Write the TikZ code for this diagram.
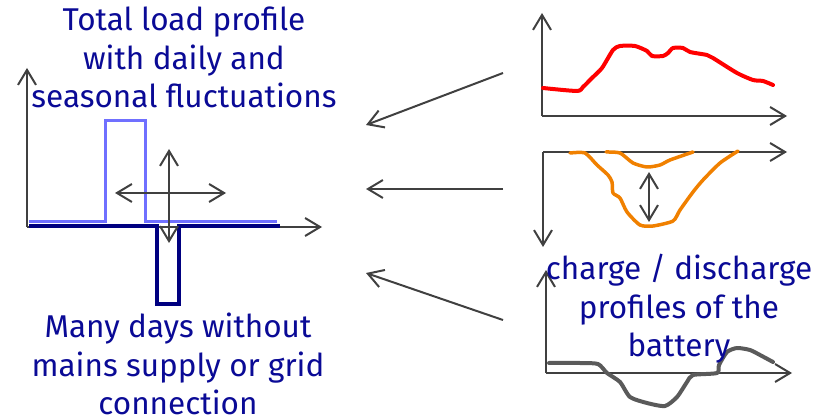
\documentclass[tikz,border=0pt]{standalone}
\usepackage{fontspec}
\setmainfont{Fira Sans}
\usetikzlibrary{arrows.meta}
\definecolor{txtblue}{RGB}{10,10,150}
\definecolor{axgray}{RGB}{64,64,64}
\definecolor{lightpulse}{RGB}{112,112,255}
\definecolor{navypulse}{RGB}{0,0,128}
\definecolor{curvered}{RGB}{255,0,0}
\definecolor{curveorange}{RGB}{240,128,0}
\definecolor{curvegray}{RGB}{90,90,90}
\tikzset{
  barb/.tip={Straight Barb[length=15pt,width=18pt,line width=2pt]},
  axis/.style={draw=axgray,line width=2pt,-barb},
  dbl/.style={draw=axgray,line width=2pt,barb-barb},
  lbl/.style={text=txtblue,font=\fontsize{31.5}{38.5}\selectfont,align=center,inner sep=0pt},
  curve/.style={line width=4pt,line cap=round,line join=round}
}
\begin{document}
\begin{tikzpicture}[x=1pt,y=-1pt]
\useasboundingbox (0,0) rectangle (823,417);
% ---------- left graph ----------
\coordinate (lo) at (27,227);
\coordinate (ly) at (27,68);
\coordinate (lx) at (322,227);
\draw[axis] (lo) -- (ly);
\draw[axis] (lo) -- (lx);
\draw[lightpulse,line width=3pt,line join=miter] (29,222) -- (105,222) -- (105,121) -- (145,121) -- (145,222) -- (277,222);
\draw[navypulse,line width=4pt,line join=miter] (29,226) -- (157,226) -- (157,304) -- (179,304) -- (179,226) -- (280,226);
\coordinate (vt) at (169,149);
\coordinate (vb) at (169,243);
\coordinate (hl) at (115,193);
\coordinate (hr) at (226,193);
\draw[dbl] (vb) -- (vt);
\draw[dbl] (hl) -- (hr);
\node[lbl,anchor=north] (tl) at (184,7) {Total load profile\\with daily and\\seasonal fluctuations};
\node[lbl,anchor=north] (bl) at (178,313) {Many days without\\mains supply or grid\\connection};
% ---------- right graph 1 ----------
\coordinate (ro1) at (542,116);
\draw[axis] (ro1) -- (542,13);
\draw[axis] (ro1) -- (787,116);
\draw[curvered,curve] plot[smooth,tension=0.4] coordinates {(543,88) (577,91) (583,87) (592,78) (602,68) (613,50) (620,46) (635,46) (647,51) (652,56) (663,56) (668,53) (673,48) (683,48) (690,52) (707,55) (713,58) (737,73) (753,80) (763,81) (773,85)};
% ---------- right graph 2 ----------
\coordinate (ro2) at (543,152);
\draw[axis] (ro2) -- (787,152);
\draw[axis] (ro2) -- (543,247);
\draw[curveorange,curve,line width=3.5pt] plot[smooth,tension=0.4] coordinates {(606,152) (620,153) (633,163) (647,167) (660,165) (670,160) (693,152)};
\draw[curveorange,curve,line width=3.5pt] plot[smooth,tension=0.4] coordinates {(570,153) (585,153) (597,165) (608,175) (612,182) (613,193) (620,198) (627,212) (640,225) (653,226) (673,221) (680,210) (693,192) (703,180) (720,163) (738,151)};
\coordinate (ot) at (649,172);
\coordinate (ob) at (649,222);
\draw[dbl] (ot) -- (ob);
% ---------- right graph 3 ----------
\coordinate (ro3) at (546,373);
\draw[axis] (ro3) -- (546,270);
\draw[axis] (ro3) -- (792,373);
\draw[curvegray,curve] plot[smooth,tension=0.4] coordinates {(549,363) (580,363) (598,364) (607,373) (620,382) (630,397) (647,403) (665,406) (677,397) (687,382) (693,375) (717,373) (719,365) (727,352) (737,348) (750,350) (760,355) (773,362)};
\node[lbl,anchor=north] (rl) at (679,254) {charge / discharge\\profiles of the\\battery};
% ---------- connecting arrows ----------
\coordinate (a1s) at (503,73);
\coordinate (a1e) at (366,125);
\coordinate (a2s) at (503,189);
\coordinate (a2e) at (366,189);
\coordinate (a3s) at (503,320);
\coordinate (a3e) at (366,273);
\draw[axis] (a1s) -- (a1e);
\draw[axis] (a2s) -- (a2e);
\draw[axis] (a3s) -- (a3e);
\end{tikzpicture}
\end{document}
